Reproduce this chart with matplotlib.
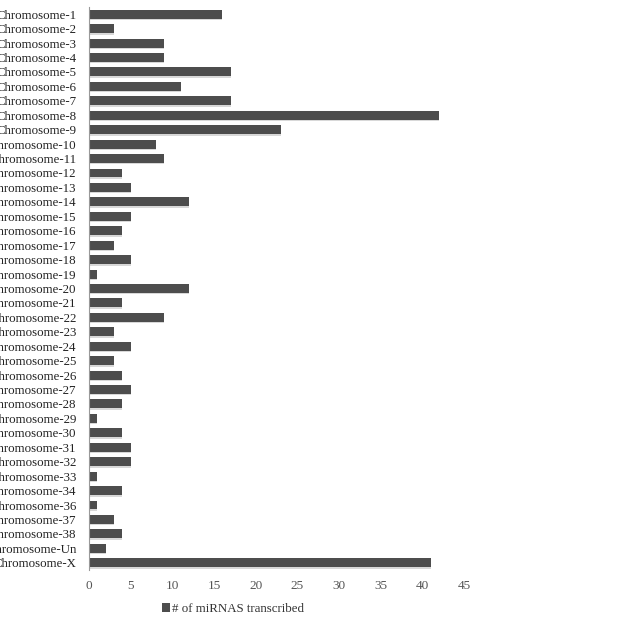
import numpy as np
import matplotlib
matplotlib.use("Agg")
from matplotlib import pyplot as plt

# chromosome labels and miRNA counts
chromosomes = ['Chromosome-1', 'Chromosome-2', 'Chromosome-3', 'Chromosome-4', 'Chromosome-5',
               'Chromosome-6', 'Chromosome-7', 'Chromosome-8', 'Chromosome-9', 'Chromosome-10',
               'Chromosome-11', 'Chromosome-12', 'Chromosome-13', 'Chromosome-14', 'Chromosome-15',
               'Chromosome-16', 'Chromosome-17', 'Chromosome-18', 'Chromosome-19', 'Chromosome-20',
               'Chromosome-21', 'Chromosome-22', 'Chromosome-23', 'Chromosome-24', 'Chromosome-25',
               'Chromosome-26', 'Chromosome-27', 'Chromosome-28', 'Chromosome-29', 'Chromosome-30',
               'Chromosome-31', 'Chromosome-32', 'Chromosome-33', 'Chromosome-34', 'Chromosome-36',
               'Chromosome-37', 'Chromosome-38', 'Chromosome-Un', 'Chromosome-X']
counts = [16, 3, 9, 9, 17, 11, 17, 42, 23, 8,
          9, 4, 5, 12, 5, 4, 3, 5, 1, 12,
          4, 9, 3, 5, 3, 4, 5, 4, 1, 4,
          5, 5, 1, 4, 1, 3, 4, 2, 41]
xticks = [0, 5, 10, 15, 20, 25, 30, 35, 40, 45]
series_name = '# of miRNAS transcribed'

plt.rcParams['font.family'] = ['Liberation Serif', 'DejaVu Serif']

fig = plt.figure(figsize=(6.37, 6.17), dpi=100)
ax = fig.add_axes([0.1397, 0.0762, 0.5887, 0.9125])

y = np.arange(len(chromosomes))
# faint shadow under each bar
ax.barh(y + 0.1, counts, height=0.62, color='#d8d8d8', zorder=1)
bars = ax.barh(y, counts, height=0.62, color='#4d4d4d', zorder=2, label=series_name)

ax.set_yticks(y)
ax.set_yticklabels(chromosomes, fontsize=9.3, color='#222222')
ax.set_ylim(len(chromosomes) - 0.5, -0.5)
ax.set_xlim(0, 45)
ax.set_xticks(xticks)
ax.set_xticklabels([str(t) for t in xticks], fontsize=9.5, color='#555555')
ax.tick_params(axis='both', length=0)
ax.tick_params(axis='x', pad=7)
ax.tick_params(axis='y', pad=9)

for s in ['top', 'right', 'bottom']:
    ax.spines[s].set_visible(False)
ax.spines['left'].set_color('#999999')
ax.spines['left'].set_linewidth(0.8)

fig.legend(handles=[bars], labels=[series_name], loc='center',
           bbox_to_anchor=(233 / 637, 1 - 609 / 617), frameon=False,
           fontsize=9.3, handlelength=0.6, handleheight=0.6, handletextpad=0.2,
           labelcolor='#333333')

fig.savefig('out.png', dpi=100)
